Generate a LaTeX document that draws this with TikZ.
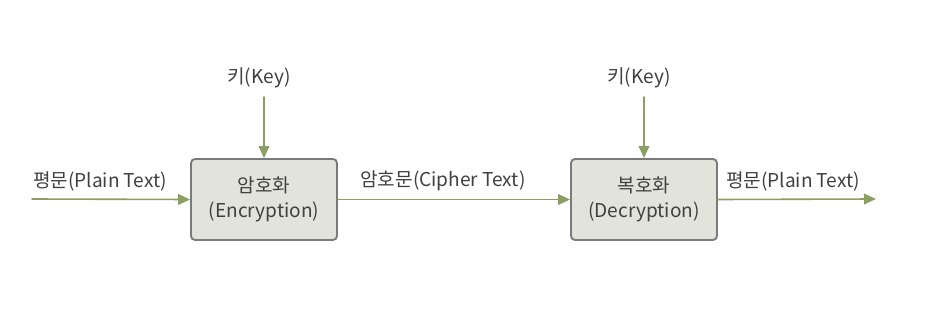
\documentclass[tikz,border=0pt]{standalone}
\usepackage{fontspec}
\setmainfont{Noto Sans CJK KR}
\usepackage{xcolor}
\usetikzlibrary{arrows.meta,positioning}
\definecolor{arrowgreen}{HTML}{8A9F62}
\definecolor{boxfill}{HTML}{E2E4DB}
\definecolor{boxline}{HTML}{7A7A7A}
\definecolor{txtgray}{HTML}{404040}
\tikzset{
  procbox/.style={rectangle, draw=boxline, fill=boxfill, line width=1.4pt,
    rounded corners=3pt, minimum width=109.5pt, minimum height=60.75pt,
    align=center, font=\fontsize{14.3}{19}\selectfont, text=txtgray},
  lbl/.style={font=\fontsize{14.3}{15}\selectfont, text=txtgray, inner sep=1pt},
  flow/.style={draw=arrowgreen, line width=1.2pt, -{Triangle[length=9pt,width=8pt]}},
  every picture/.style={line cap=round, line join=round}
}

\begin{document}
\begin{tikzpicture}[x=0.75pt,y=-0.75pt]
  \useasboundingbox (0,0) rectangle (940,321);
  \node[procbox] (enc) at (264,199.5) {암호화\\(Encryption)};
  \node[procbox] (dec) at (644,199.5) {복호화\\(Decryption)};
  \coordinate (in) at (32,199);
  \coordinate (out) at (876,199);
  \node[lbl] (key1) at (259,78) {키(Key)};
  \node[lbl] (key2) at (639,78) {키(Key)};
  \node[lbl] (plain1) at (100,181) {평문(Plain Text)};
  \node[lbl] (cipher) at (443,181) {암호문(Cipher Text)};
  \node[lbl] (plain2) at (793,181) {평문(Plain Text)};
  \draw[flow] (in) -- (enc.west);
  \draw[flow] (enc.east) -- (dec.west);
  \draw[flow] (dec.east) -- (out);
  \draw[flow] (264,97) -- (enc.north);
  \draw[flow] (644,97) -- (dec.north);
\end{tikzpicture}
\end{document}
